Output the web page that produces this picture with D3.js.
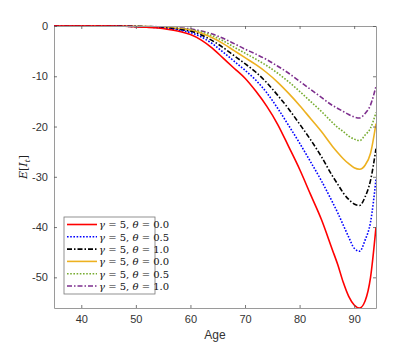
<!DOCTYPE html>
<html>
<head>
<meta charset="utf-8">
<script src="https://cdn.jsdelivr.net/npm/d3@7"></script>
<style>
body{margin:0;background:#fff;}
svg{display:block;}
</style>
</head>
<body>
<svg width="415" height="346"></svg>
<script>
(()=>{

//data
let ages = [35,40,45,48,50,52,54,56,58,60,62,64,66,68,70,72,74,76,78,80,82,84,86,87,88,89,90,91,92,93,94];
let red    = [0,0,-0.02,-0.06,-0.15,-0.25,-0.4,-0.7,-1.1,-1.7,-2.8,-4.4,-6.4,-8.4,-10.4,-13,-16,-19.6,-24,-28.5,-33.5,-38.5,-44.5,-47.5,-51,-53.8,-55.5,-56.1,-54.7,-50,-40];
let blue   = [0,0,-0.02,-0.05,-0.12,-0.2,-0.33,-0.55,-0.85,-1.3,-2.2,-3.5,-5.2,-7.0,-8.8,-10.8,-13.3,-16.4,-19.8,-23.3,-27,-30.8,-35,-37.2,-39.6,-42,-44.2,-44.8,-42.6,-39,-30.5];
let black  = [0,0,-0.02,-0.04,-0.1,-0.16,-0.27,-0.45,-0.7,-1.05,-1.8,-2.9,-4.3,-5.9,-7.5,-9.2,-11.3,-13.8,-16.5,-19.5,-22.6,-26,-29.8,-31.5,-33.2,-34.5,-35.4,-35.7,-34,-30.7,-24.4];
let orange = [0,0,-0.01,-0.03,-0.08,-0.13,-0.22,-0.36,-0.56,-0.85,-1.45,-2.35,-3.5,-4.9,-6.3,-7.7,-9.3,-11.2,-13.4,-15.8,-18.4,-21,-23.9,-25.2,-26.4,-27.4,-28.2,-28.5,-27.7,-25.3,-19.4];
let green  = [0,0,-0.01,-0.03,-0.06,-0.1,-0.18,-0.3,-0.46,-0.7,-1.2,-1.95,-2.95,-4.2,-5.4,-6.6,-7.9,-9.4,-11.1,-13,-15,-17,-19.2,-20.2,-21,-21.9,-22.5,-22.8,-21.7,-20.3,-17.2];
let purple = [0,0,-0.01,-0.02,-0.05,-0.08,-0.15,-0.25,-0.38,-0.58,-1.0,-1.6,-2.45,-3.5,-4.6,-5.6,-6.7,-8.0,-9.4,-11,-12.6,-14.2,-15.8,-16.4,-17,-17.6,-18.1,-18.3,-17.4,-15.7,-12];

let gammas = [5,5,5,5,5,5];
let thetas = ["0.0","0.5","1.0","0.0","0.5","1.0"];
let xTicks = [40,50,60,70,80,90];
let yTicks = [0,-10,-20,-30,-40,-50];

let seriesList = [
	{vals:red,    color:"#ff0000", dash:null},
	{vals:blue,   color:"#0000ff", dash:"1.6,1.6"},
	{vals:black,  color:"#000000", dash:"5,2,1.5,2"},
	{vals:orange, color:"#edb120", dash:null},
	{vals:green,  color:"#77ac30", dash:"1.6,1.6"},
	{vals:purple, color:"#7e2f8e", dash:"5,2,1.5,2"}
];

let svg = d3.select("svg");
let left = 54, right = 376, top = 26, bottom = 308;

let x = d3.scaleLinear().domain([35,94]).range([left,right]);
let y = d3.scaleLinear().domain([-56.1,0]).range([bottom,top]);

let axisColor = "#9a9a9a";
let textColor = "#333";

//curves
let line = d3.line()
	.x((d,i) => x(ages[i]))
	.y(d => y(d))
	.curve(d3.curveMonotoneX);

let plot = svg.append("g");
plot.append("clipPath").attr("id","clip")
	.append("rect").attr("x",left).attr("y",top-2).attr("width",right-left).attr("height",bottom-top+2);

plot.selectAll(".curve")
	.data(seriesList.slice().reverse())
	.enter().append("path")
	.attr("class","curve")
	.attr("clip-path","url(#clip)")
	.attr("d", d => line(d.vals))
	.attr("fill","none")
	.attr("stroke", d => d.color)
	.attr("stroke-width",1.6)
	.attr("stroke-dasharray", d => d.dash);

//axes: box with inward ticks
let xAxisB = d3.axisBottom(x).tickValues(xTicks).tickSizeInner(-3).tickSizeOuter(0).tickPadding(7);
let xAxisT = d3.axisTop(x).tickValues(xTicks).tickSizeInner(-3).tickSizeOuter(0).tickFormat("");
let yAxisL = d3.axisLeft(y).tickValues(yTicks).tickSizeInner(-3).tickSizeOuter(0).tickPadding(6).tickFormat(d => d===0 ? "0" : "-" + Math.abs(d));
let yAxisR = d3.axisRight(y).tickValues(yTicks).tickSizeInner(-3).tickSizeOuter(0).tickFormat("");

function styleAxis(g){
	g.select(".domain").attr("stroke",axisColor).attr("stroke-width",1);
	g.selectAll(".tick line").attr("stroke","#555").attr("stroke-width",0.8);
	g.selectAll(".tick text").attr("fill",textColor)
		.style("font-family","'Liberation Sans', Arial, sans-serif").style("font-size","11px");
}
svg.append("g").attr("transform",`translate(0,${bottom})`).call(xAxisB).call(styleAxis);
svg.append("g").attr("transform",`translate(0,${top})`).call(xAxisT).call(styleAxis);
svg.append("g").attr("transform",`translate(${left},0)`).call(yAxisL).call(styleAxis);
svg.append("g").attr("transform",`translate(${right},0)`).call(yAxisR).call(styleAxis);

//axis titles
svg.append("text")
	.attr("x",(left+right)/2).attr("y",339)
	.attr("text-anchor","middle")
	.attr("fill",textColor)
	.style("font-family","'Liberation Sans', Arial, sans-serif").style("font-size","12px")
	.text("Age");

let ylab = svg.append("text")
	.attr("transform",`translate(27,${(top+bottom)/2}) rotate(-90)`)
	.attr("text-anchor","middle")
	.attr("fill","#222")
	.style("font-family","'DejaVu Serif', serif").style("font-size","11px");
ylab.append("tspan").style("font-style","italic").text("E");
ylab.append("tspan").text("[");
ylab.append("tspan").style("font-style","italic").text("I");
ylab.append("tspan").style("font-style","italic").style("font-size","8px").attr("dy",3).text("t");
ylab.append("tspan").attr("dy",-3).text("]");

//legend
let lx = 64, ly = 217, lw = 91, lh = 77, rowH = 12.3;
let legend = svg.append("g");
legend.append("rect")
	.attr("x",lx).attr("y",ly).attr("width",lw).attr("height",lh)
	.attr("fill","#fff").attr("stroke","#777").attr("stroke-width",0.8);

let rows = legend.selectAll(".row")
	.data(seriesList)
	.enter().append("g")
	.attr("class","row")
	.attr("transform",(d,i) => `translate(${lx},${ly+7.5+i*rowH})`);

rows.append("line")
	.attr("x1",3).attr("x2",33).attr("y1",0).attr("y2",0)
	.attr("stroke",d => d.color).attr("stroke-width",1.6)
	.attr("stroke-dasharray",d => d.dash);

let lt = rows.append("text")
	.attr("x",35).attr("y",3.8)
	.attr("fill","#111")
	.style("font-family","'DejaVu Serif', serif").style("font-size","10px");
lt.append("tspan").style("font-style","italic").text("γ");
lt.append("tspan").text((d,i) => " = " + gammas[i] + ", ");
lt.append("tspan").style("font-style","italic").text("θ");
lt.append("tspan").text((d,i) => " = " + thetas[i]);

})();
</script>
</body>
</html>
